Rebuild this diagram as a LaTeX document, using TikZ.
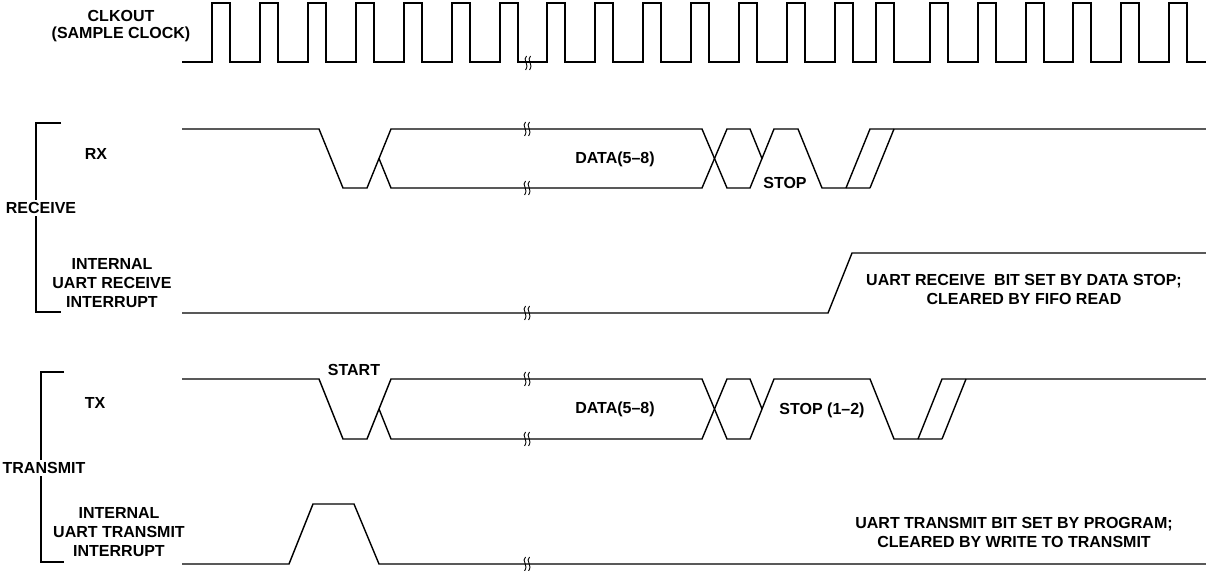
\documentclass[tikz,border=0pt]{standalone}
\usepackage{fontspec}
\setmainfont{Liberation Sans}
\usetikzlibrary{positioning}
\tikzset{
  lbl/.style   = {font=\bfseries\fontsize{8}{9.5}\selectfont,
                  align=center, inner sep=0pt},
  sig/.style   = {line width=0.7pt, line join=miter},
  brack/.style = {line width=0.6pt},
  brk/.pic     = {
    \draw[line width=0.45pt] (-1.5,-7) .. controls (-6,-3) and (2,1) .. (-2.5,7);
    \draw[line width=0.45pt] (2.5,-7) .. controls (-2,-3) and (6,1) .. (1.5,7);
  }
}
\begin{document}
\begin{tikzpicture}[x=0.5pt,y=-0.5pt]
        \useasboundingbox (0,0) rectangle (1206,571);
        % signal names
        \node[lbl,font=\bfseries\fontsize{8}{8.5}\selectfont] (clk) at (121,26.5) {CLKOUT\\(SAMPLE CLOCK)};
        \node[lbl] (rx) at (96,154) {RX};
        \node[lbl] (rxint) at (112,283) {INTERNAL\\UART RECEIVE\\INTERRUPT};
        \node[lbl] (tx) at (95,403) {TX};
        \node[lbl] (txint) at (119,532) {INTERNAL\\UART TRANSMIT\\INTERRUPT};
        \draw[brack] (61,123) -- (36,123) -- (36,312) -- (61,312);
        \draw[brack] (64,372) -- (41,372) -- (41,562) -- (64,562);
        \node[lbl,fill=white,inner sep=1pt] (rcv) at (41,208) {RECEIVE};
        \node[lbl,fill=white,inner sep=1pt] (xmt) at (44,468) {TRANSMIT};
        % sample clock
        \draw[sig] (182,62) foreach \r in {212,260,308,356,404,452,500,547,595,643,691,739,787,835,876,930,978,1026,1073,1121,1169}
          { -- (\r,62) -- (\r,3) -- (\r+18,3) -- (\r+18,62) } -- (1206,62);
        % receive
        \draw[sig] (182,129) -- (319,129) -- (343,188) -- (367,188) -- (391,129) -- (702,129) -- (727,188)
          -- (750,188) -- (774,129) -- (798,129) -- (822,188) -- (870,188);
        \draw[sig] (379,158.5) -- (391,188) -- (702,188) -- (727,129) -- (750,129) -- (762,158.5);
        \draw[sig] (846,188) -- (870,129) -- (1206,129);
        \draw[sig] (870,188) -- (894,129);
        \draw[sig] (182,313) -- (828,313) -- (852,253) -- (1206,253);
        % transmit
        \draw[sig] (182,379) -- (319,379) -- (343,439) -- (367,439) -- (391,379) -- (702,379) -- (727,439)
          -- (750,439) -- (774,379) -- (870,379) -- (894,439) -- (942,439);
        \draw[sig] (379,409) -- (391,439) -- (702,439) -- (727,379) -- (750,379) -- (762,409);
        \draw[sig] (918,439) -- (942,379) -- (1206,379);
        \draw[sig] (942,439) -- (966,379);
        \draw[sig] (182,564) -- (289,564) -- (313,504) -- (354,504) -- (379,564) -- (1206,564);
        % breaks
        \pic at (528,63) {brk};
        \pic at (527,129) {brk};
        \pic at (527,188) {brk};
        \pic at (527,313) {brk};
        \pic at (527,379) {brk};
        \pic at (527,439) {brk};
        \pic at (527,564) {brk};
        % field labels
        \node[lbl] (rxdata) at (615,159) {DATA(5–8)};
        \node[lbl] (rxstop) at (785,183) {STOP};
        \node[lbl] (txstart) at (354,370) {START};
        \node[lbl] (txdata) at (615,409) {DATA(5–8)};
        \node[lbl] (txstop) at (822,410) {STOP (1–2)};
        \node[lbl] (rxnote) at (1024,289.5) {UART RECEIVE\ \ BIT SET BY DATA STOP;\\CLEARED BY FIFO READ};
        \node[lbl] (txnote) at (1014,532) {UART TRANSMIT BIT SET BY PROGRAM;\\CLEARED BY WRITE TO TRANSMIT};
      \end{tikzpicture}
\end{document}
